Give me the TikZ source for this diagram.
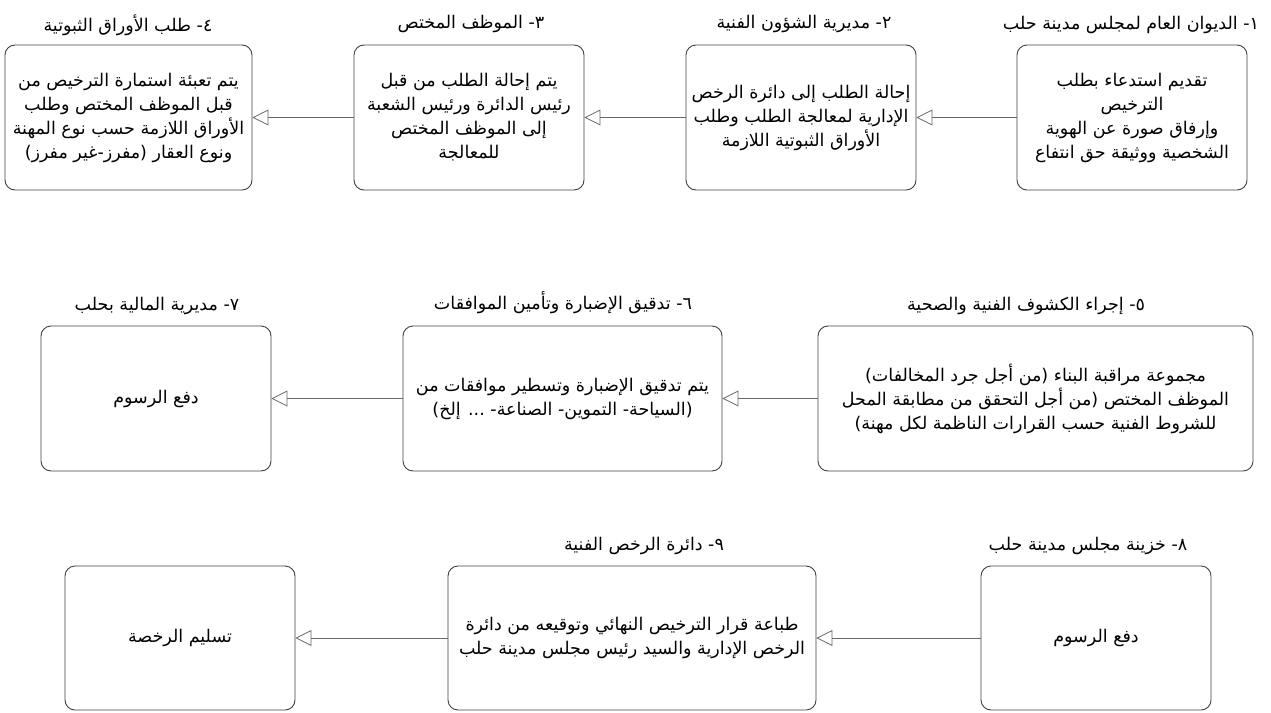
\documentclass[tikz,border=0pt]{standalone}
\usepackage{fontspec}
\usetikzlibrary{arrows.meta}
\TeXXeTstate=1
\newfontfamily\arabicfont[Script=Arabic]{DejaVu Sans}
\newcommand{\ar}[1]{{\arabicfont\beginR #1\endR}}
\tikzset{
  stepbox/.style={draw=black!75, line width=0.9pt, rounded corners=10pt, align=center,
    font=\fontsize{17.5}{24}\selectfont, inner sep=0pt},
  ttl/.style={font=\fontsize{17.5}{20}\selectfont, inner sep=0pt},
  flow/.style={draw=black!60, line width=0.8pt, -{Triangle[open, length=16pt, width=16pt]}}
}
\begin{document}
\begin{tikzpicture}[x=1pt,y=-1pt]
\useasboundingbox (0,0) rectangle (1271,712);
% boxes: corners given in pixel coords
\newcommand{\mkbox}[6]{%
  \node[stepbox, minimum width=#4-#2, minimum height=#5-#3] (#1) at ({(#2+#4)/2},{(#3+#5)/2}) {#6};}
\mkbox{b1}{1017}{45}{1247}{190}{\ar{تقديم استدعاء بطلب}\\\ar{الترخيص}\\\ar{وإرفاق صورة عن الهوية}\\\ar{الشخصية ووثيقة حق انتفاع}}
\mkbox{b2}{686}{45}{916}{190}{\ar{إحالة الطلب إلى دائرة الرخص}\\\ar{الإدارية لمعالجة الطلب وطلب}\\\ar{الأوراق الثبوتية اللازمة}}
\mkbox{b3}{354}{45}{584}{190}{\ar{يتم إحالة الطلب من قبل}\\\ar{رئيس الدائرة ورئيس الشعبة}\\\ar{إلى الموظف المختص}\\\ar{للمعالجة}}
\mkbox{b4}{5}{45}{252}{190}{\ar{يتم تعبئة استمارة الترخيص من}\\\ar{قبل الموظف المختص وطلب}\\\ar{الأوراق اللازمة حسب نوع المهنة}\\\ar{ونوع العقار (مفرز-غير مفرز)}}
\mkbox{b5}{818}{326}{1253}{471}{\ar{مجموعة مراقبة البناء (من أجل جرد المخالفات)}\\\ar{الموظف المختص (من أجل التحقق من مطابقة المحل}\\\ar{للشروط الفنية حسب القرارات الناظمة لكل مهنة)}}
\mkbox{b6}{403}{326}{722}{471}{\ar{يتم تدقيق الإضبارة وتسطير موافقات من}\\\ar{(السياحة- التموين- الصناعة- ... إلخ)}}
\mkbox{b7}{41}{326}{271}{471}{\ar{دفع الرسوم}}
\mkbox{b8}{981}{566}{1211}{710}{\ar{دفع الرسوم}}
\mkbox{b9}{448}{566}{816}{710}{\ar{طباعة قرار الترخيص النهائي وتوقيعه من دائرة}\\\ar{الرخص الإدارية والسيد رئيس مجلس مدينة حلب}}
\mkbox{b10}{65}{566}{295}{710}{\ar{تسليم الرخصة}}
% titles
\node[ttl] (t1) at (1131,25) {\ar{١- الديوان العام لمجلس مدينة حلب}};
\node[ttl] (t2) at (804,24) {\ar{٢- مديرية الشؤون الفنية}};
\node[ttl] (t3) at (471,24) {\ar{٣- الموظف المختص}};
\node[ttl] (t4) at (128,25) {\ar{٤- طلب الأوراق الثبوتية}};
\node[ttl] (t5) at (1026,306) {\ar{٥- إجراء الكشوف الفنية والصحية}};
\node[ttl] (t6) at (563,303) {\ar{٦- تدقيق الإضبارة وتأمين الموافقات}};
\node[ttl] (t7) at (157,306) {\ar{٧- مديرية المالية بحلب}};
\node[ttl] (t8) at (1088,546) {\ar{٨- خزينة مجلس مدينة حلب}};
\node[ttl] (t9) at (644,546) {\ar{٩- دائرة الرخص الفنية}};
% connectors
\draw[flow] (b1.west) -- (b2.east);
\draw[flow] (b2.west) -- (b3.east);
\draw[flow] (b3.west) -- (b4.east);
\draw[flow] (b5.west) -- (b6.east);
\draw[flow] (b6.west) -- (b7.east);
\draw[flow] (b8.west) -- (b9.east);
\draw[flow] (b9.west) -- (b10.east);
\end{tikzpicture}
\end{document}
